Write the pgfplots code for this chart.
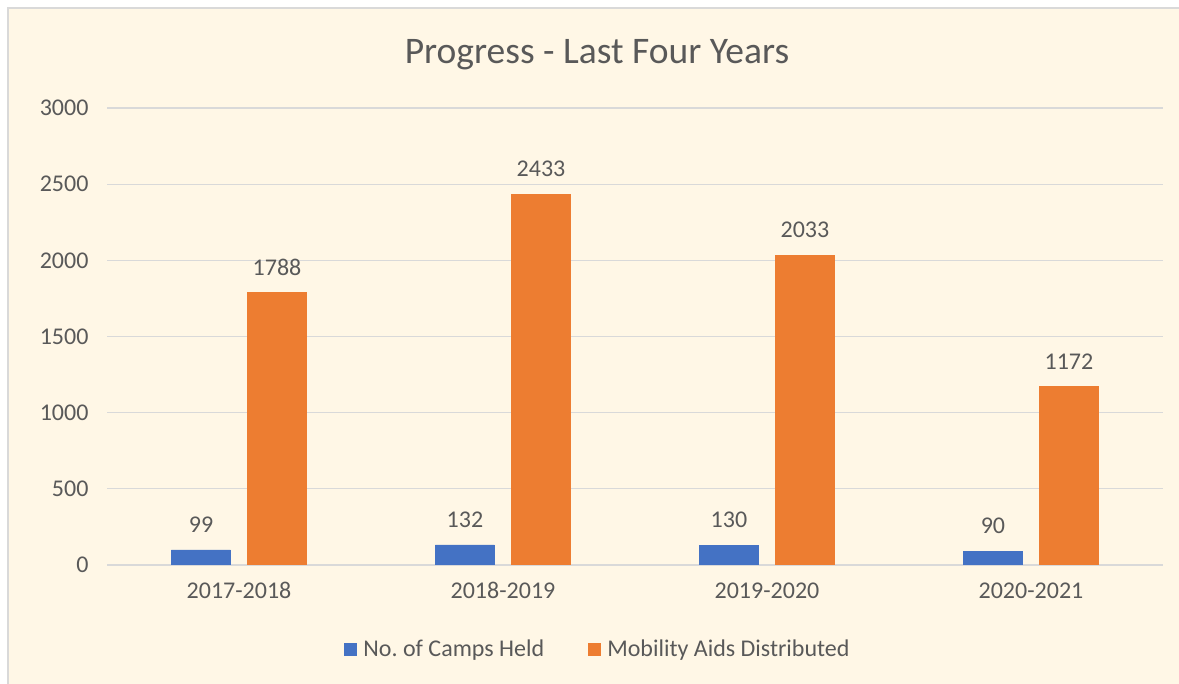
\documentclass[border=0pt]{standalone}
\usepackage{pgfplots}
\pgfplotsset{compat=1.18}
\usepackage{fontspec}
\setmainfont{Carlito}
\definecolor{bg}{RGB}{255,247,230}
\definecolor{txt}{RGB}{89,89,89}
\definecolor{gridc}{RGB}{217,217,217}
\definecolor{cblue}{RGB}{68,114,196}
\definecolor{corange}{RGB}{237,125,49}
\begin{document}
\begin{tikzpicture}
\useasboundingbox (0pt,0pt) rectangle (1179pt,684pt);
\begin{scope}
\clip (0pt,0pt) rectangle (1179pt,684pt);
\fill[white] (0pt,0pt) rectangle (1179pt,684pt);
\filldraw[fill=bg, draw=gridc, line width=1.5pt] (8pt,-20pt) rectangle (1200pt,676pt);
\end{scope}
\node[text=txt, font=\fontsize{37.5}{40}\selectfont] at (597pt,629pt) {Progress - Last Four Years};
\begin{axis}[
  at={(107pt,119pt)}, anchor=south west,
  scale only axis, width=1056pt, height=457pt,
  xmin=-0.5, xmax=3.5, ymin=0, ymax=3000,
  ybar=17pt, bar width=59pt,
  xtick={0,1,2,3},
  xticklabels={2017-2018,2018-2019,2019-2020,2020-2021},
  ytick={0,500,...,3000},
  major tick length=0pt,
  axis line style={draw=none},
  ymajorgrids, grid style={gridc, line width=1.3pt},
  /pgf/number format/assume math mode=true,
  /pgf/number format/1000 sep={},
  tick label style={text=txt, font=\fontsize{24}{26}\selectfont},
  xticklabel style={yshift=-14pt},
  yticklabel style={xshift=-15pt},
  nodes near coords,
  every node near coord/.append style={text=txt, font=\fontsize{24}{26}\selectfont, inner sep=0pt, yshift=17pt, /pgf/number format/assume math mode=true},
  legend style={at={(0.465,-0.184)}, anchor=center, draw=none, fill=none, legend columns=2,
    font=\fontsize{24}{26}\selectfont, text=txt,
    /tikz/every even column/.append style={column sep=42pt}},
  legend image code/.code={\path[draw=none,fill=none] (0pt,0pt) rectangle (17pt,1pt); \fill[#1,draw=none] (0pt,-6.5pt) rectangle (13pt,6.5pt);},
]
\addplot[fill=cblue, draw=cblue] coordinates {(0,99) (1,132) (2,130) (3,90)};
\addplot[fill=corange, draw=corange] coordinates {(0,1788) (1,2433) (2,2033) (3,1172)};
\legend{No.\ of Camps Held, Mobility Aids Distributed}
\end{axis}
\end{tikzpicture}
\end{document}
